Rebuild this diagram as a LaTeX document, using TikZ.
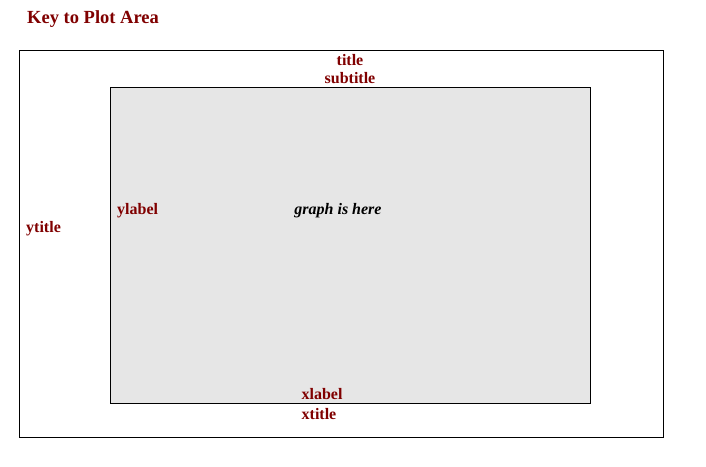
\documentclass[tikz,border=0pt]{standalone}
\usepackage{fontspec}
\setmainfont{Liberation Serif}
\definecolor{lbl}{HTML}{800000}
\definecolor{plotgray}{HTML}{E6E6E6}
\tikzset{
  lab/.style={text=lbl, font=\fontsize{16}{18}\selectfont\bfseries, inner sep=0pt},
  frame/.style={draw=black, line width=1pt},
}
\begin{document}
\begin{tikzpicture}[x=1pt,y=-1pt]
\useasboundingbox (0,0) rectangle (706,466);
\node[frame, minimum width=644pt, minimum height=387pt, anchor=north west, inner sep=0pt] (outer) at (19,50) {};
\node[frame, fill=plotgray, minimum width=480pt, minimum height=316pt, anchor=north west, inner sep=0pt] (plot) at (110,87) {};
\node[text=lbl, font=\fontsize{18.5}{20}\selectfont\bfseries, anchor=west, inner sep=0pt] (key) at (27,19.5) {Key to Plot Area};
\node[lab] (title) at (350,60) {title};
\node[lab] (subtitle) at (350,78.5) {subtitle};
\node[lab, anchor=west] (ylabel) at (117,210.5) {ylabel};
\node[lab, anchor=west] (ytitle) at (26,228.5) {ytitle};
\node[font=\fontsize{16}{18}\selectfont\bfseries\itshape, inner sep=0pt] (graph) at (338,210.5) {graph is here};
\node[lab] (xlabel) at (322,394) {xlabel};
\node[lab] (xtitle) at (319,414) {xtitle};
\end{tikzpicture}
\end{document}
